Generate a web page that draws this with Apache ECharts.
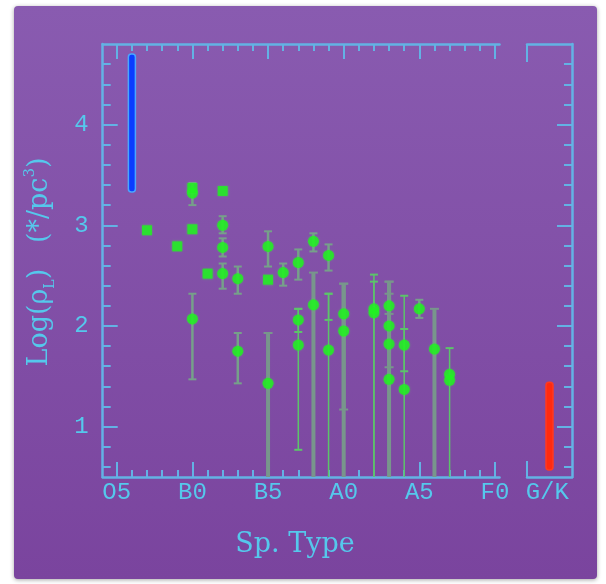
<!DOCTYPE html>
<html>
<head>
<meta charset="utf-8">
<script src="https://cdn.jsdelivr.net/npm/echarts@6/dist/echarts.min.js"></script>
<style>
  html, body { margin: 0; padding: 0; background: #ffffff; }
  #chart { width: 606px; height: 584px; }
</style>
</head>
<body>
<div id="chart"></div>
<script>
// Spectral type is coded as subtypes counted from O5 (O5 = 0, B0 = 5, B5 = 10, A0 = 15, A5 = 20, F0 = 25).
const spTickValues = [0, 5, 10, 15, 20, 25];
const spTickLabels = ['O5', 'B0', 'B5', 'A0', 'A5', 'F0'];
const logTickValues = [1, 2, 3, 4];
const logTickLabels = ['1', '2', '3', '4'];

// Densities plotted as filled circles
const circleType = [5, 5, 7, 7, 7, 8, 8, 10, 10, 11, 12, 12, 12, 13, 13, 14, 14, 15, 15, 17, 17, 18, 18, 18, 18, 19, 19, 20, 21, 22, 22];
const circleLogRho = [3.32, 2.07, 3.00, 2.78, 2.52, 2.47, 1.75, 2.79, 1.43, 2.53, 2.63, 2.06, 1.81, 2.84, 2.21, 2.70, 1.76, 2.12, 1.95, 2.17, 2.13, 2.20, 2.00, 1.82, 1.47, 1.81, 1.37, 2.17, 1.77, 1.52, 1.46];

// Densities plotted as filled squares
const squareType = [2, 4, 5, 5, 6, 7, 10];
const squareLogRho = [2.95, 2.79, 2.96, 3.37, 2.52, 3.34, 2.46];

// Error bars: type, lower, upper, style (0 short grey, 1 thin green, 2 wide grey)
const errType = [5, 5, 7, 7, 7, 8, 8, 10, 10, 11, 12, 12, 12, 13, 13, 14, 14, 14, 15, 15, 17, 17, 18, 18, 18, 19, 19, 20, 21, 22];
const errLow  = [3.20, 1.47, 2.92, 2.69, 2.37, 2.32, 1.43, 2.59, 0.50, 2.40, 2.46, 1.94, 0.77, 2.74, 0.50, 2.55, 0.50, 2.06, 0.50, 1.17, 0.50, 0.50, 0.50, 1.59, 2.12, 0.50, 1.55, 2.08, 0.50, 0.50];
const errHigh = [3.42, 2.32, 3.09, 2.87, 2.62, 2.59, 1.93, 2.94, 1.93, 2.62, 2.76, 2.17, 2.17, 2.92, 2.53, 2.81, 2.32, 2.32, 2.42, 2.42, 2.51, 2.44, 2.44, 2.32, 2.44, 2.30, 1.97, 2.26, 2.17, 1.78];
const errStyle = [0, 0, 0, 0, 0, 0, 0, 0, 2, 0, 0, 1, 1, 0, 2, 0, 1, 1, 2, 2, 1, 1, 2, 2, 2, 1, 1, 0, 2, 1];

// Range bars: O-star range (blue) and G/K range (red)
const oRangeType = [1];
const oRangeLow = [3.33];
const oRangeHigh = [4.70];
const gkRangeLow = [0.57];
const gkRangeHigh = [1.44];
const gkLabel = 'G/K';

const X_MIN = -0.93, X_MAX = 25.3, Y_MIN = 0.5, Y_MAX = 4.8;
const AXIS = '#63b2e4';
const TEXT = '#55c8ec';
const GREEN = '#20f020';
const barStyles = [
  { color: '#76a08a', width: 2.5, cap: 8 },
  { color: '#5cc46a', width: 1.5, cap: 8 },
  { color: '#78968c', width: 4, cap: 9 }
];

const minorX = [];
for (let v = 0; v <= 25; v++) minorX.push(v);
const minorY = [];
for (let v = 6; v <= 46; v += 2) minorY.push(v / 10);

const tickFont = { fontFamily: 'Liberation Mono', fontSize: 24, color: TEXT };
const lineOn = { show: true, onZero: false, lineStyle: { color: AXIS, width: 2.5 } };
const lineOff = { show: false, onZero: false };
const tickStyle = { color: AXIS, width: 2 };

function axis(grid, pos, min, max, extra) {
  return Object.assign({
    type: 'value', gridIndex: grid, position: pos, min: min, max: max,
    splitLine: { show: false },
    axisLine: lineOff,
    axisTick: { show: false },
    axisLabel: { show: false }
  }, extra);
}

const xAxes = [
  axis(0, 'bottom', X_MIN, X_MAX, { axisLine: lineOn,
    axisTick: { show: true, inside: true, length: 7, customValues: minorX, lineStyle: tickStyle } }),
  axis(0, 'bottom', X_MIN, X_MAX, {
    axisTick: { show: true, inside: true, length: 15, customValues: spTickValues, lineStyle: tickStyle },
    axisLabel: Object.assign({ show: true, margin: 4, customValues: spTickValues,
      formatter: v => spTickLabels[spTickValues.indexOf(Math.round(v))] || '' }, tickFont) }),
  axis(0, 'top', X_MIN, X_MAX, { axisLine: lineOn,
    axisTick: { show: true, inside: true, length: 7, customValues: minorX, lineStyle: tickStyle } }),
  axis(0, 'top', X_MIN, X_MAX, {
    axisTick: { show: true, inside: true, length: 15, customValues: spTickValues, lineStyle: tickStyle } }),
  axis(1, 'bottom', 0, 1, { axisLine: lineOn,
    axisTick: { show: true, inside: true, length: 16, customValues: [0], lineStyle: tickStyle },
    axisLabel: Object.assign({ show: true, margin: 4, customValues: [0.45], formatter: () => gkLabel }, tickFont) }),
  axis(1, 'top', 0, 1, { axisLine: lineOn,
    axisTick: { show: true, inside: true, length: 18, customValues: [0], lineStyle: tickStyle } })
];

const yAxes = [
  axis(0, 'left', Y_MIN, Y_MAX, { axisLine: lineOn,
    axisTick: { show: true, inside: true, length: 8, customValues: minorY, lineStyle: tickStyle } }),
  axis(0, 'left', Y_MIN, Y_MAX, {
    axisTick: { show: true, inside: true, length: 15, customValues: logTickValues, lineStyle: tickStyle },
    axisLabel: Object.assign({ show: true, margin: 14, customValues: logTickValues,
      formatter: v => logTickLabels[logTickValues.indexOf(Math.round(v))] || '' }, tickFont) }),
  axis(1, 'right', Y_MIN, Y_MAX, { axisLine: lineOn,
    axisTick: { show: true, inside: true, length: 8, customValues: minorY, lineStyle: tickStyle } }),
  axis(1, 'right', Y_MIN, Y_MAX, {
    axisTick: { show: true, inside: true, length: 15, customValues: logTickValues, lineStyle: tickStyle } })
];

function renderErrorBar(params, api) {
  const t = api.value(0), lo = api.value(1), hi = api.value(2), kind = api.value(3);
  const st = barStyles[kind];
  const top = api.coord([t, hi]);
  const bot = api.coord([t, Math.max(lo, Y_MIN)]);
  const half = st.cap / 2;
  const children = [
    { type: 'line', shape: { x1: top[0], y1: top[1], x2: bot[0], y2: bot[1] },
      style: { stroke: st.color, lineWidth: st.width } },
    { type: 'line', shape: { x1: top[0] - half, y1: top[1], x2: top[0] + half, y2: top[1] },
      style: { stroke: st.color, lineWidth: 2 } }
  ];
  if (lo > Y_MIN) {
    children.push({ type: 'line', shape: { x1: bot[0] - half, y1: bot[1], x2: bot[0] + half, y2: bot[1] },
      style: { stroke: st.color, lineWidth: 2 } });
  }
  return { type: 'group', children };
}

function rangeBar(fill, stroke) {
  return function (params, api) {
    const t = api.value(0);
    const top = api.coord([t, api.value(2)]);
    const bot = api.coord([t, api.value(1)]);
    return {
      type: 'rect',
      shape: { x: top[0] - 3.5, y: top[1], width: 7, height: bot[1] - top[1], r: 3 },
      style: { fill: fill, stroke: stroke, lineWidth: 1.5 }
    };
  };
}

const chart = echarts.init(document.getElementById('chart'), null, { renderer: 'canvas' });
chart.setOption({
  backgroundColor: '#ffffff',
  animation: false,
  graphic: {
    elements: [
      {
        type: 'rect', z: -10, silent: true,
        shape: { x: 14, y: 6, width: 583, height: 573, r: 4 },
        style: {
          fill: new echarts.graphic.LinearGradient(0, 0, 0, 1, [
            { offset: 0, color: '#895bb0' },
            { offset: 1, color: '#7a449e' }
          ]),
          shadowBlur: 4, shadowColor: 'rgba(0,0,0,0.35)', shadowOffsetY: 1
        }
      },
      {
        type: 'text', x: 295, y: 545, silent: true,
        style: { text: 'Sp. Type', font: '27px "DejaVu Serif"', fill: TEXT, align: 'center', verticalAlign: 'middle' }
      },
      {
        type: 'text', x: 40, y: 262, rotation: Math.PI / 2, silent: true,
        style: {
          text: 'Log(ρ{s|L})   (*/pc{p|3})',
          font: '27px "DejaVu Serif"', fill: TEXT, align: 'center', verticalAlign: 'middle',
          lineHeight: 34,
          rich: {
            s: { fontSize: 14, fontFamily: 'DejaVu Serif', fill: TEXT, verticalAlign: 'bottom', lineHeight: 34 },
            p: { fontSize: 15, fontFamily: 'DejaVu Serif', fill: TEXT, verticalAlign: 'top', lineHeight: 34 }
          }
        }
      }
    ]
  },
  grid: [
    { left: 102.7, top: 44, width: 396.8, height: 433 },
    { left: 527, top: 44, width: 45, height: 433 }
  ],
  xAxis: xAxes,
  yAxis: yAxes,
  series: [
    {
      type: 'custom', xAxisIndex: 0, yAxisIndex: 0, renderItem: renderErrorBar,
      encode: { x: 0, y: [1, 2] }, z: 3,
      data: errType.map((t, i) => [t, errLow[i], errHigh[i], errStyle[i]])
    },
    {
      type: 'scatter', xAxisIndex: 0, yAxisIndex: 0, symbol: 'circle', symbolSize: 11, z: 4,
      itemStyle: { color: GREEN, shadowBlur: 2, shadowColor: 'rgba(40,255,40,0.6)' },
      data: circleType.map((t, i) => [t, circleLogRho[i]])
    },
    {
      type: 'scatter', xAxisIndex: 0, yAxisIndex: 0, symbol: 'rect', symbolSize: 10, z: 4,
      itemStyle: { color: GREEN, shadowBlur: 2, shadowColor: 'rgba(40,255,40,0.6)' },
      data: squareType.map((t, i) => [t, squareLogRho[i]])
    },
    {
      type: 'custom', xAxisIndex: 0, yAxisIndex: 0, renderItem: rangeBar('#0a3cff', '#4aa6ff'),
      encode: { x: 0, y: [1, 2] }, z: 4,
      data: oRangeType.map((t, i) => [t, oRangeLow[i], oRangeHigh[i]])
    },
    {
      type: 'custom', xAxisIndex: 4, yAxisIndex: 2, renderItem: rangeBar('#ff2a10', '#ff3a20'),
      encode: { x: 0, y: [1, 2] }, z: 4,
      data: gkRangeLow.map((v, i) => [0.5, v, gkRangeHigh[i]])
    }
  ]
});
</script>
</body>
</html>
